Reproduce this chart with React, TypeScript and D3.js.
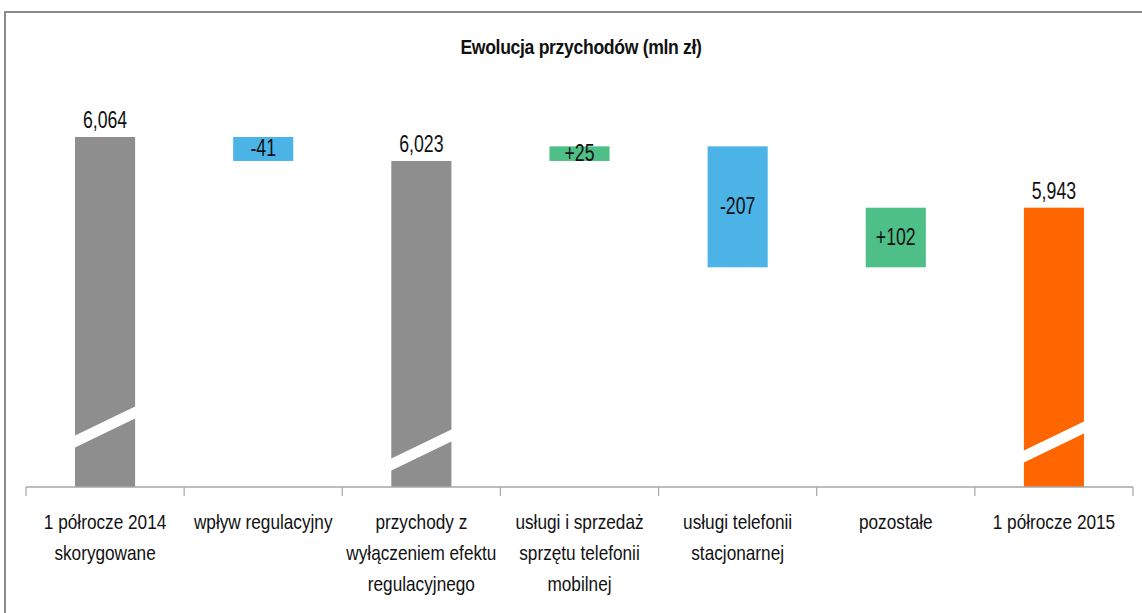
import { useEffect, useRef } from 'react'
import * as d3 from 'd3'

const W = 1142, H = 613
const FONT = '"Liberation Sans", Arial, sans-serif'
const SQUEEZE = 0.82   // horizontal squeeze to mimic the narrow source font

// ── data ──────────────────────────────────────────────────────────────────
const CATEGORIES = [
  ['1 półrocze 2014', 'skorygowane'],
  ['wpływ regulacyjny'],
  ['przychody z', 'wyłączeniem efektu', 'regulacyjnego'],
  ['usługi i sprzedaż', 'sprzętu telefonii', 'mobilnej'],
  ['usługi telefonii', 'stacjonarnej'],
  ['pozostałe'],
  ['1 półrocze 2015'],
]
const VALUES = [6064, -41, 6023, 25, -207, 102, 5943]
const KINDS  = ['total', 'delta', 'total', 'delta', 'delta', 'delta', 'final']
const LABELS = ['6,064', '-41', '6,023', '+25', '-207', '+102', '5,943']
const AXIS_MIN = 5465   // broken axis: bars start here

// px above the baseline where the white break slash sits (totals only)
const BREAK_LIFT: Record<number, number> = { 0: 60, 2: 37, 6: 45 }

const COLORS = { total: '#8e8e8e', final: '#ff6600', up: '#4fbf88', down: '#4bb3e6' }

export default function App() {
  const svgRef = useRef<SVGSVGElement>(null)

  useEffect(() => {
    const svg = d3.select(svgRef.current!)
    svg.selectAll('*').remove()

    const base = 487
    const x = d3.scaleBand<number>()
      .domain(d3.range(CATEGORIES.length))
      .range([26, 1133])
      .paddingInner(0.62).paddingOuter(0.31)
    const step = x.step()
    const y = d3.scaleLinear().domain([AXIS_MIN, 6064]).range([base, 137])
    const cx = (i: number) => x(i)! + x.bandwidth() / 2

    // frame
    svg.append('rect').attr('x', 5).attr('y', 12).attr('width', W + 20).attr('height', H + 20)
      .attr('fill', 'none').attr('stroke', '#8a8a8a').attr('stroke-width', 2)

    // title
    svg.append('text').attr('transform', `translate(581,54) scale(0.84,1)`)
      .attr('text-anchor', 'middle')
      .attr('font-family', FONT).attr('font-weight', 'bold').attr('font-size', 21)
      .attr('letter-spacing', -0.4).attr('fill', '#111')
      .text('Ewolucja przychodów (mln zł)')

    // running totals
    let run = 0
    const bars = VALUES.map((v, i) => {
      let lo: number, hi: number
      if (KINDS[i] === 'delta') {
        const start = run
        run += v
        lo = Math.min(start, run); hi = Math.max(start, run)
      } else {
        run = v
        lo = AXIS_MIN; hi = v
      }
      const color = KINDS[i] === 'total' ? COLORS.total
        : KINDS[i] === 'final' ? COLORS.final
        : v >= 0 ? COLORS.up : COLORS.down
      return { i, v, lo, hi, color }
    })

    const g = svg.append('g')
    g.selectAll('rect.bar').data(bars).join('rect').attr('class', 'bar')
      .attr('x', d => x(d.i)!).attr('width', x.bandwidth())
      .attr('y', d => y(d.hi)).attr('height', d => y(d.lo) - y(d.hi))
      .attr('fill', d => d.color)

    // break slashes
    bars.filter(d => BREAK_LIFT[d.i] != null).forEach(d => {
      const x0 = x(d.i)! - 1, x1 = x(d.i)! + x.bandwidth() + 1
      const yc = base - BREAK_LIFT[d.i]
      const rise = 15, t = 6
      g.append('path')
        .attr('d', `M${x0},${yc + rise - t}L${x1},${yc - rise - t}L${x1},${yc - rise + t}L${x0},${yc + rise + t}Z`)
        .attr('fill', '#fff')
    })

    // value labels
    g.selectAll('text.val').data(bars).join('text').attr('class', 'val')
      .attr('transform', d => {
        const ty = KINDS[d.i] === 'delta' ? (y(d.lo) + y(d.hi)) / 2 + 7 : y(d.hi) - 9
        return `translate(${cx(d.i)},${ty}) scale(0.77,1)`
      })
      .attr('text-anchor', 'middle').attr('font-family', FONT).attr('font-size', 23)
      .attr('fill', '#111')
      .text(d => LABELS[d.i])

    // axis
    svg.append('line').attr('x1', 26).attr('x2', 1133).attr('y1', base).attr('y2', base)
      .attr('stroke', '#a6a6a6').attr('stroke-width', 1.5)
    svg.selectAll('line.tick').data(d3.range(CATEGORIES.length + 1)).join('line').attr('class', 'tick')
      .attr('x1', d => 26 + d * step).attr('x2', d => 26 + d * step)
      .attr('y1', base).attr('y2', base + 9)
      .attr('stroke', '#a6a6a6').attr('stroke-width', 1.2)

    const cat = svg.selectAll('text.cat').data(CATEGORIES).join('text').attr('class', 'cat')
      .attr('transform', (_, i) => `translate(${cx(i)},529) scale(${SQUEEZE},1)`)
      .attr('text-anchor', 'middle').attr('font-family', FONT).attr('font-size', 21)
      .attr('fill', '#111')
    cat.each(function (lines) {
      const t = d3.select(this)
      lines.forEach((ln, k) => {
        t.append('tspan').attr('x', 0).attr('y', k * 31).text(ln)
      })
    })
  }, [])

  return (
    <div style={{ position: 'absolute', left: 0, top: 0 }}>
      <svg ref={svgRef} width={W} height={H} style={{ display: 'block', background: '#fff' }} />
    </div>
  )
}
